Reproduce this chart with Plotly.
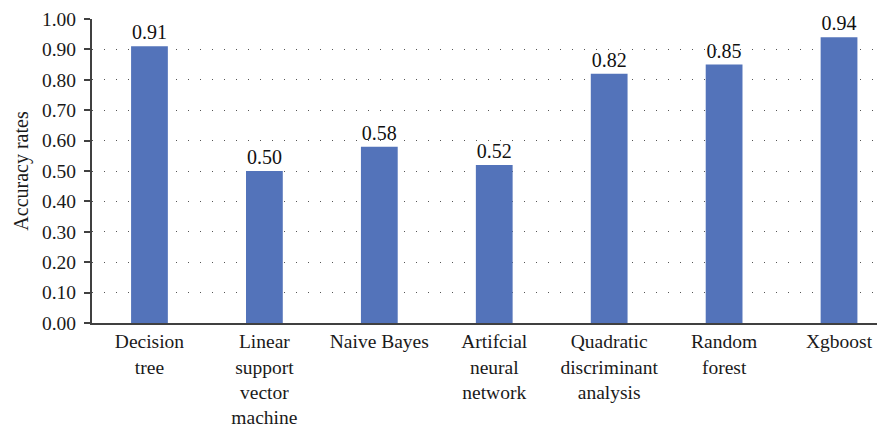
import plotly.graph_objects as go

categories = ["Decision<br>tree", "Linear<br>support<br>vector<br>machine", "Naive Bayes",
              "Artifcial<br>neural<br>network", "Quadratic<br>discriminant<br>analysis",
              "Random<br>forest", "Xgboost"]
accuracy = [0.91, 0.50, 0.58, 0.52, 0.82, 0.85, 0.94]
y_ticks = [i / 10 for i in range(11)]

SERIF = "Liberation Serif, Times New Roman, DejaVu Serif, serif"

fig = go.Figure(go.Bar(
    x=list(range(len(categories))), y=accuracy,
    marker=dict(color="#5373BA", line=dict(width=0)),
    width=0.32,
    texttemplate="%{y:.2f}", textposition="outside",
    textfont=dict(family=SERIF, size=20, color="#111111"),
    cliponaxis=False,
))

# page body has an 8px margin, so the figure is shrunk and offset to compensate
fig.update_layout(
    width=877, height=421,
    margin=dict(l=84, r=0, t=11, b=106, autoexpand=False),
    paper_bgcolor="white", plot_bgcolor="white",
    font=dict(family=SERIF, size=20, color="#1a1a1a"),
    showlegend=False,
)
fig.update_xaxes(
    range=[-0.5, 6.4],
    tickmode="array", tickvals=list(range(len(categories))), ticktext=categories,
    tickfont=dict(family=SERIF, size=19.5),
    showline=True, linecolor="#404040", linewidth=2,
    showgrid=False, ticks="", zeroline=False,
)
fig.update_yaxes(
    range=[0, 1.0],
    tickmode="array", tickvals=y_ticks, ticktext=[f"{v:.2f}" for v in y_ticks],
    tickfont=dict(family=SERIF, size=19.5),
    ticklabelstandoff=4, ticklabeloverflow="allow",
    showline=True, linecolor="#404040", linewidth=2,
    ticks="outside", ticklen=6, tickcolor="#404040", tickwidth=2,
    showgrid=True, gridcolor="#555555", gridwidth=1, griddash="1px,11px",
    zeroline=False,
    title=dict(text="Accuracy rates", font=dict(family=SERIF, size=20), standoff=8),
)
fig.write_html("out.html")
